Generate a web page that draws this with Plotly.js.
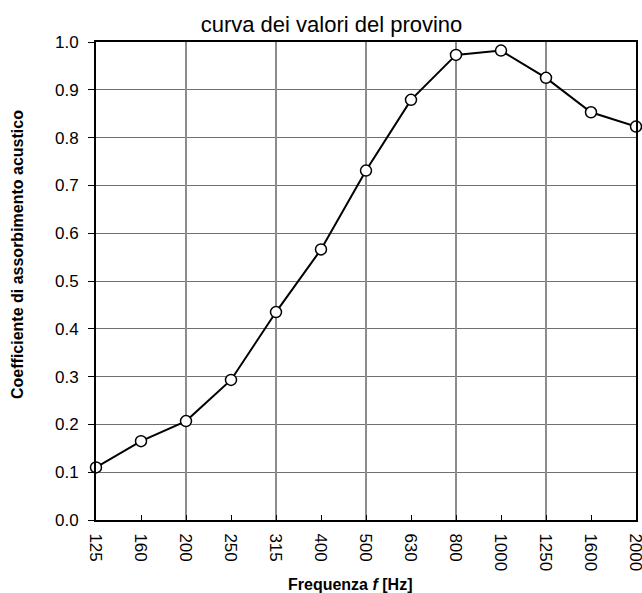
<!DOCTYPE html>
<html>
<head>
<meta charset="utf-8">
<script src="https://cdn.plot.ly/plotly-3.0.1.min.js"></script>
<style>html,body{margin:0;padding:0;background:#fff;}#chart{width:642px;height:593px;}</style>
</head>
<body>
<div id="chart"></div>
<script>
const freqLabels = ['125','160','200','250','315','400','500','630','800','1000','1250','1600','2000'];
const absorption = [0.11, 0.165, 0.207, 0.293, 0.435, 0.566, 0.731, 0.879, 0.973, 0.982, 0.925, 0.853, 0.823];
const gridFreqs = ['200','315','500','800','1250'];
const yTicks = [0, 0.1, 0.2, 0.3, 0.4, 0.5, 0.6, 0.7, 0.8, 0.9, 1.0];

const FONT = 'Liberation Sans, Arial, sans-serif';
const lastIdx = freqLabels.length - 1;

const traces = [
  {
    x: freqLabels,
    y: absorption,
    type: 'scatter',
    mode: 'lines+markers',
    line: {color: '#000', width: 2},
    marker: {symbol: 'circle', size: 11, color: '#fff', line: {color: '#000', width: 1.5}},
    cliponaxis: false,
    showlegend: false,
    hoverinfo: 'x+y'
  },
  {
    x: [], y: [], xaxis: 'x2', yaxis: 'y', type: 'scatter', mode: 'lines', showlegend: false, hoverinfo: 'skip'
  }
];

const layout = {
  width: 642,
  height: 593,
  margin: {l: 96, r: 6, t: 42, b: 73},
  paper_bgcolor: '#fff',
  plot_bgcolor: '#fff',
  font: {family: FONT, color: '#000', size: 17},
  showlegend: false,
  title: {
    text: 'curva dei valori del provino',
    font: {family: FONT, size: 22, color: '#000'},
    xref: 'container', x: 331.5 / 642, xanchor: 'center',
    yref: 'container', y: 1 - 24 / 593, yanchor: 'middle'
  },
  xaxis: {
    type: 'category',
    categoryorder: 'array',
    categoryarray: freqLabels,
    range: [0, lastIdx],
    showgrid: false,
    zeroline: false,
    showline: true, mirror: true, linecolor: '#000', linewidth: 2,
    ticks: 'inside', ticklen: 5, tickwidth: 1, tickcolor: '#000',
    tickangle: 90,
    tickfont: {family: FONT, size: 17, color: '#000'},
    ticklabelstandoff: 8,
    fixedrange: true
  },
  xaxis2: {
    overlaying: 'x',
    anchor: 'y',
    type: 'linear',
    range: [0, lastIdx],
    tickmode: 'array',
    tickvals: gridFreqs.map(f => freqLabels.indexOf(f)),
    showticklabels: false,
    ticks: '',
    showgrid: true, gridcolor: '#8c8c8c', gridwidth: 1.5,
    zeroline: false, showline: false,
    fixedrange: true
  },
  yaxis: {
    range: [0, 1],
    tickmode: 'array',
    tickvals: yTicks,
    ticktext: yTicks.map(v => v.toFixed(1)),
    showgrid: true, gridcolor: '#707070', gridwidth: 1,
    zeroline: false,
    showline: true, mirror: true, linecolor: '#000', linewidth: 2,
    ticks: 'outside', ticklen: 6, tickwidth: 1, tickcolor: '#000',
    tickfont: {family: FONT, size: 17, color: '#000'},
    ticklabelstandoff: 6,
    fixedrange: true
  },
  annotations: [
    {
      text: '<b>Coefficiente di assorbimento acustico</b>',
      xref: 'paper', yref: 'paper',
      x: (17 - 96) / 540, y: (520 - 255) / 478,
      xanchor: 'center', yanchor: 'middle',
      textangle: -90, showarrow: false,
      font: {family: FONT, size: 16, color: '#000'}
    },
    {
      text: '<b>Frequenza <i>f</i> [Hz]</b>',
      xref: 'paper', yref: 'paper',
      x: (349.5 - 96) / 540, y: (520 - 584) / 478,
      xanchor: 'center', yanchor: 'middle',
      showarrow: false,
      font: {family: FONT, size: 16, color: '#000'}
    }
  ]
};

Plotly.newPlot('chart', traces, layout, {displayModeBar: false, staticPlot: true});
</script>
</body>
</html>
